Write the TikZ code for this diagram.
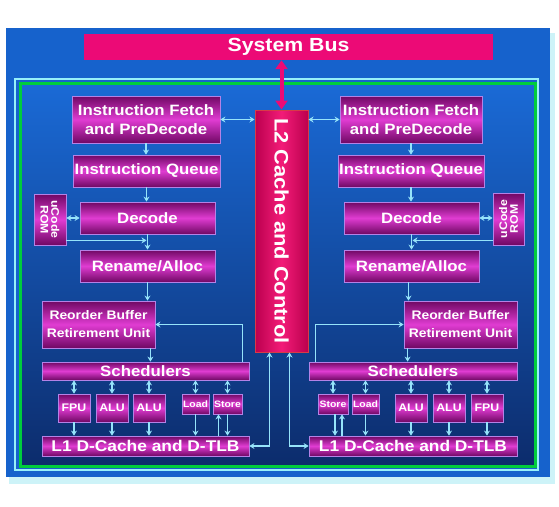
\documentclass[tikz,border=0pt]{standalone}
\usepackage{fontspec}
\setmainfont{Liberation Sans}[FakeStretch=1.12]
\usetikzlibrary{arrows.meta,calc}
\definecolor{bgblue}{RGB}{22,98,204}
\definecolor{innertop}{RGB}{26,106,214}
\definecolor{innerbot}{RGB}{12,44,108}
\definecolor{shadowc}{RGB}{205,243,248}
\definecolor{greenb}{RGB}{0,205,60}
\definecolor{cyanb}{RGB}{150,240,250}
\definecolor{boxdark}{RGB}{112,8,100}
\definecolor{boxlight}{RGB}{224,60,210}
\definecolor{boxedge}{RGB}{180,130,230}
\definecolor{busc}{RGB}{236,10,118}
\definecolor{ltwodark}{RGB}{188,0,78}
\definecolor{ltwolight}{RGB}{242,28,120}
\definecolor{ltwoedge}{RGB}{215,60,70}
\definecolor{arrc}{RGB}{150,228,250}
\begin{document}
\begin{tikzpicture}[x=1pt,y=-1pt,
  sz/.style 2 args={minimum width=#1pt, minimum height=#2pt},
  box/.style={draw=boxedge, line width=0.8pt, top color=boxdark, bottom color=boxdark, middle color=boxlight,
    text=white, font=\bfseries\fontsize{15}{19}\selectfont, inner sep=0pt, align=center},
  small/.style={font=\bfseries\fontsize{11}{12}\selectfont},
  tiny/.style={font=\bfseries\fontsize{9.3}{10}\selectfont},
  arr/.style={draw=arrc, line width=1.5pt, -{Stealth[length=5pt,width=6pt]}},
  darr/.style={draw=arrc, line width=1.5pt, {Stealth[length=5pt,width=6pt]}-{Stealth[length=5pt,width=6pt]}},
]
\useasboundingbox (0,0) rectangle (559,506);
\fill[white] (0,0) rectangle (559,506);
% frame
\fill[shadowc] (9,33) rectangle (555,484);
\fill[bgblue] (6,28) rectangle (550,477);
\draw[cyanb, line width=1.4pt] (15,79) rectangle (538,470);
\shade[top color=innertop, bottom color=innerbot] (21,84) rectangle (535,466);
\draw[greenb, line width=3pt] (20,83) rectangle (535,466);

% system bus and L2
\node[fill=busc, sz={409}{26}, text=white, inner sep=0pt, font=\bfseries\fontsize{19}{21}\selectfont] (bus) at (288.5,47) {System Bus};
\node[draw=ltwoedge, line width=1pt, left color=ltwodark, right color=ltwodark, middle color=ltwolight, sz={53}{242}, inner sep=0pt,
  text=white, font=\bfseries\fontsize{19.5}{21}\selectfont] (l2) at (281.5,231) {\rotatebox{-90}{L2 Cache and Control}};

% left core
\node[box, sz={148}{47}] (ifL) at (146,119.5) {Instruction Fetch\\and PreDecode};
\node[box, sz={147}{32}] (iqL) at (146.5,171) {Instruction Queue};
\node[box, sz={135}{32}] (decL) at (147.5,218) {Decode};
\node[box, sz={32}{51}, font=\bfseries\fontsize{11}{12}\selectfont] (romL) at (50,219.5) {\rotatebox{-90}{\shortstack{uCode\\ROM}}};
\node[box, sz={135}{32}] (renL) at (147.5,266) {Rename/Alloc};
\node[box, sz={113}{47}, font=\bfseries\fontsize{12.4}{18}\selectfont] (robL) at (98.5,324.5) {Reorder Buffer\\Retirement Unit};
\node[box, sz={207}{18}] (schL) at (145.5,371) {Schedulers};
\node[box, small, sz={32}{28}] (fpuL) at (74,408) {FPU};
\node[box, small, sz={32}{28}] (aluaL) at (112,408) {ALU};
\node[box, small, sz={32}{28}] (alubL) at (149,408) {ALU};
\node[box, tiny, sz={27}{20}] (loadL) at (195.5,404) {Load};
\node[box, tiny, sz={29}{20}] (storeL) at (227.5,404) {Store};
\node[box, font=\bfseries\fontsize{15.5}{17}\selectfont, sz={207}{20}] (l1L) at (145.5,446) {L1 D-Cache and D-TLB};

% right core
\node[box, sz={142}{47}] (ifR) at (411,119.5) {Instruction Fetch\\and PreDecode};
\node[box, sz={146}{32}] (iqR) at (411,171) {Instruction Queue};
\node[box, sz={135}{32}] (decR) at (411.5,218) {Decode};
\node[box, sz={31}{52}, font=\bfseries\fontsize{11}{12}\selectfont] (romR) at (508.5,219) {\rotatebox{90}{\shortstack{uCode\\ROM}}};
\node[box, sz={135}{32}] (renR) at (411.5,266) {Rename/Alloc};
\node[box, sz={113}{47}, font=\bfseries\fontsize{12.4}{18}\selectfont] (robR) at (460.5,324.5) {Reorder Buffer\\Retirement Unit};
\node[box, sz={208}{18}] (schR) at (413,371) {Schedulers};
\node[box, tiny, sz={30}{20}] (storeR) at (333,404) {Store};
\node[box, tiny, sz={27}{20}] (loadR) at (365.5,404) {Load};
\node[box, small, sz={32}{28}] (aluaR) at (411,408) {ALU};
\node[box, small, sz={32}{28}] (alubR) at (449,408) {ALU};
\node[box, small, sz={32}{28}] (fpuR) at (487,408) {FPU};
\node[box, font=\bfseries\fontsize{15.5}{17}\selectfont, sz={208}{20}] (l1R) at (413,446) {L1 D-Cache and D-TLB};

% helper coordinates
\coordinate (romLo) at ($(romL.south east)+(0,-5)$);
\coordinate (robLo) at ($(robL.south east)+(-5,0)$);
\coordinate (schLo) at ($(schL.north east)+(-7,0)$);
\coordinate (stLup) at ($(storeL.south)+(-9,0)$);
\coordinate (l2a) at ($(l2.south)+(-12,0)$);
\coordinate (romRo) at ($(romR.south west)+(0,-5)$);
\coordinate (renRo) at ($(renR.south)+(-3,0)$);
\coordinate (robRo) at ($(robR.south west)+(4,0)$);
\coordinate (schRo) at ($(schR.north west)+(7,0)$);
\coordinate (stRdn) at ($(storeR.south)+(2,0)$);
\coordinate (stRup) at ($(storeR.south)+(9,0)$);
\coordinate (l2b) at ($(l2.south)+(8,0)$);

% bus <-> L2
\draw[busc, line width=4pt, {Triangle[length=9pt,width=12pt]}-{Triangle[length=9pt,width=12pt]}] (l2.north |- bus.south) -- (l2.north);

% left connectors
\draw[darr] (ifL.east) -- (ifL.east -| l2.west);
\draw[arr] (ifL.south) -- (ifL.south |- iqL.north);
\draw[arr] (iqL.south) -- (iqL.south |- decL.north);
\draw[darr] (decL.west -| romL.east) -- (decL.west);
\draw[arr] (decL.south) -- (decL.south |- renL.north);
\draw[arr, shorten >=1pt] (romLo) -- (romLo -| decL.south);
\draw[arr] (renL.south) -- (renL.south |- robL.north);
\draw[arr] (robLo) -- (robLo |- schL.north);
\draw[arr] (schLo) |- (robL.east);
\foreach \u in {fpuL,aluaL,alubL,loadL,storeL}{
  \draw[darr] (\u.north) -- (\u.north |- schL.south);
  \draw[arr] (\u.south) -- (\u.south |- l1L.north);
}
\draw[arr] (stLup |- l1L.north) -- (stLup);
\draw[darr] (l2a) |- (l1L.east);

% right connectors
\draw[darr] (ifR.west) -- (ifR.west -| l2.east);
\draw[arr] (ifR.south) -- (ifR.south |- iqR.north);
\draw[arr] (iqR.south) -- (iqR.south |- decR.north);
\draw[darr] (decR.east -| romR.west) -- (decR.east);
\draw[arr] (decR.south) -- (decR.south |- renR.north);
\draw[arr, shorten >=1pt] (romRo) -- (romRo -| decR.south);
\draw[arr] (renRo) -- (renRo |- robR.north);
\draw[arr] (robRo) -- (robRo |- schR.north);
\draw[arr] (schRo) |- (robR.west);
\foreach \u in {fpuR,aluaR,alubR,loadR,storeR}{
  \draw[darr] (\u.north) -- (\u.north |- schR.south);
}
\foreach \u in {fpuR,aluaR,alubR,loadR}{
  \draw[arr] (\u.south) -- (\u.south |- l1R.north);
}
\draw[arr] (stRdn) -- (stRdn |- l1R.north);
\draw[arr] (stRup |- l1R.north) -- (stRup);
\draw[darr] (l2b) |- (l1R.west);
\end{tikzpicture}
\end{document}
